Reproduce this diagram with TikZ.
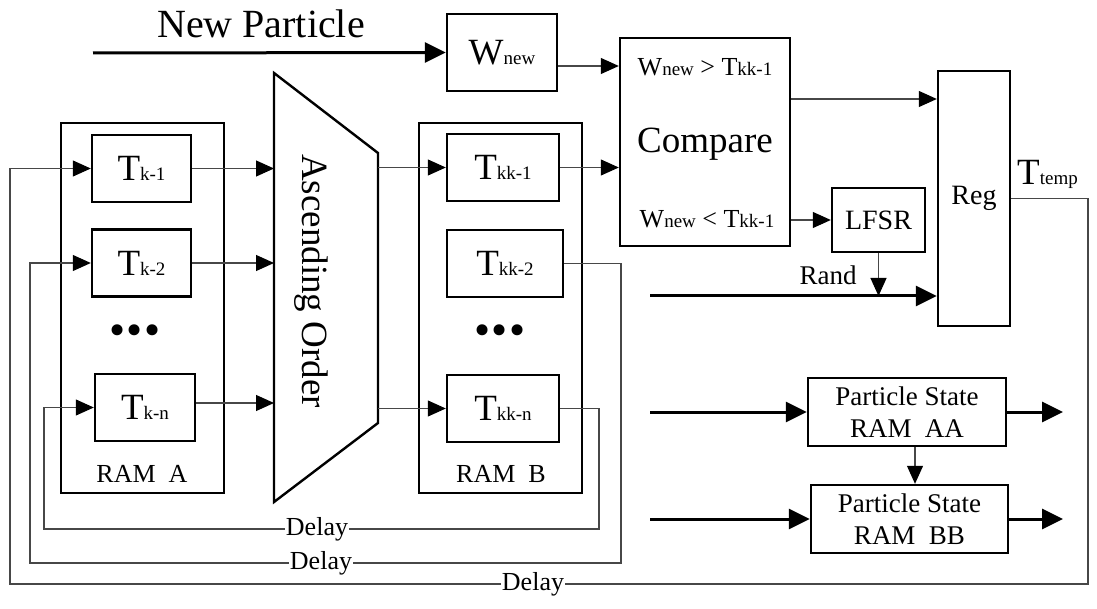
\documentclass[tikz,border=0pt]{standalone}
\usepackage{fontspec}
\setmainfont{Liberation Serif}
\usetikzlibrary{arrows.meta}
\newcommand\fs[1]{\fontsize{#1}{#1}\selectfont}
\newcommand\Tk[2]{{\fs{37}#1{\fs{19}#2}}}
\begin{document}
\begin{tikzpicture}[x=1pt,y=-1pt,
  box/.style={draw,line width=2.4pt,inner sep=0pt},
  ln/.style={draw=black!72,line width=1.1pt},
  arr/.style={ln,-{Triangle[length=18pt,width=16pt,color=black]}},
  tarr/.style={draw=black,line width=3pt,-{Triangle[length=21pt,width=20pt]}},
  lbl/.style={fill=white,inner sep=1pt,font=\fs{26}},
  txt/.style={inner sep=0pt},
  ps/.style={box,minimum width=198pt,minimum height=68pt,align=center,font=\fontsize{27}{32}\selectfont}]
\useasboundingbox (0,0) rectangle (1097,609);

% ---- top input
\coordinate (np) at (93,53);
\node[box,minimum width=110pt,minimum height=77pt] (wnew) at (502,52.5) {\Tk{W}{new}};
\node[txt,anchor=base] (nptxt) at (261,38) {\fs{40}New Particle};
\draw[tarr] (np) -- (wnew.west);

% ---- compare
\node[box,minimum width=170pt,minimum height=208pt] (cmp) at (705,142) {};
\node[txt,anchor=base] (cmpgt) at (705,76) {\fs{26}W{\fs{19}new} > T{\fs{19}kk-1}};
\node[txt,anchor=base] (cmpname) at (705,153) {\fs{37}Compare};
\node[txt,anchor=base] (cmplt) at (707,228) {\fs{26}W{\fs{19}new} < T{\fs{19}kk-1}};

% ---- reg, lfsr
\node[box,minimum width=72pt,minimum height=255pt,font=\fs{28}] (reg) at (974,198.5) {Reg};
\node[box,minimum width=93pt,minimum height=64pt,font=\fs{28}] (lfsr) at (878.5,220) {LFSR};
\node[txt,anchor=base west] (ttemp) at (1017,185) {\Tk{T}{temp}};

% ---- RAM A
\node[box,minimum width=163pt,minimum height=370pt] (rama) at (142.5,308) {};
\node[box,minimum width=99pt,minimum height=67pt] (tk1) at (141.5,168.5) {\Tk{T}{k-1}};
\node[box,minimum width=99pt,minimum height=67pt] (tk2) at (141.5,263) {\Tk{T}{k-2}};
\node[box,minimum width=100pt,minimum height=67pt] (tkn) at (145,407.5) {\Tk{T}{k-n}};
\node[txt] (dotsa) at (135,335) {\fs{46}•\kern1pt•\kern1pt•};
\node[txt,anchor=base] (ramat) at (142,482) {\fs{26}RAM\ \ A};

% ---- trapezoid
\draw[line width=2.4pt] (274,73) coordinate (tr1) -- (378,153) coordinate (tr2)
  -- (378,423) coordinate (tr3) -- (274,502) coordinate (tr4) -- cycle;
\node[txt,rotate=-90] (asc) at (311,281) {\fs{37}Ascending Order};

% ---- RAM B
\node[box,minimum width=163pt,minimum height=370pt] (ramb) at (500.5,308) {};
\node[box,minimum width=112pt,minimum height=67pt] (tkk1) at (503,167.5) {\Tk{T}{kk-1}};
\node[box,minimum width=116pt,minimum height=67pt] (tkk2) at (505,263.5) {\Tk{T}{kk-2}};
\node[box,minimum width=112pt,minimum height=67pt] (tkkn) at (503,408.5) {\Tk{T}{kk-n}};
\node[txt] (dotsb) at (500,335) {\fs{46}•\kern1pt•\kern1pt•};
\node[txt,anchor=base] (rambt) at (501,482) {\fs{26}RAM\ \ B};

% ---- particle state
\node[ps] (psaa) at (907,412) {Particle State\\RAM\ \ AA};
\node[ps,minimum width=197pt] (psbb) at (909.5,519) {Particle State\\RAM\ \ BB};

% ---- connectors
\coordinate (w1) at ([yshift=-13.5pt]wnew.east);
\draw[arr] (w1) -- (w1 -| cmp.west);
\coordinate (c2) at ([yshift=43pt]cmp.east);
\draw[arr] (c2) -- (c2 -| reg.west);
\draw[arr] (tkk1.east) -- (tkk1.east -| cmp.west);
\draw[arr] (lfsr.west -| cmp.east) -- (lfsr.west);
\coordinate (rs) at (650,296);
\draw[tarr] (rs) -- (rs -| reg.west);
\draw[arr] (lfsr.south) -- (lfsr.south |- rs);
\node[txt,anchor=base] (rand) at (828,285) {\fs{27}Rand};

\draw[arr] (tk1.east) -- (tk1.east -| tr1);
\draw[arr] (tk2.east) -- (tk2.east -| tr1);
\coordinate (tn) at ([yshift=4.5pt]tkn.east);
\draw[arr] (tn) -- (tn -| tr1);
\draw[arr] (tkk1.west -| tr2) -- (tkk1.west);
\draw[arr] (tkkn.west -| tr2) -- (tkkn.west);

\coordinate (ain) at (650,412);
\coordinate (aout) at (1063,412);
\coordinate (bin) at (650,519);
\coordinate (bout) at (1063,519);
\draw[tarr] (ain) -- (psaa.west);
\draw[tarr] (psaa.east) -- (aout);
\draw[tarr] (bin) -- (psbb.west);
\draw[tarr] (psbb.east) -- (bout);
\coordinate (p1) at ([xshift=8pt]psaa.south);
\draw[arr] (p1) -- (p1 |- psbb.north);

% ---- delay loops
\coordinate (d1r) at (599,529);
\coordinate (d1l) at (44,529);
\coordinate (d2r) at (621,563);
\coordinate (d2l) at (30,563);
\coordinate (d3r) at (1088,584);
\coordinate (d3l) at (10,584);
\draw[arr] (tkkn.east) -| (d1r) -- (d1l) |- (tkn.west);
\draw[arr] (tkk2.east) -| (d2r) -- (d2l) |- (tk2.west);
\draw[arr] (reg.east) -| (d3r) -- (d3l) |- (tk1.west);
\node[lbl] (dl1) at (317,529) {Delay};
\node[lbl] (dl2) at (321,563) {Delay};
\node[lbl] (dl3) at (533,584) {Delay};
\end{tikzpicture}
\end{document}
